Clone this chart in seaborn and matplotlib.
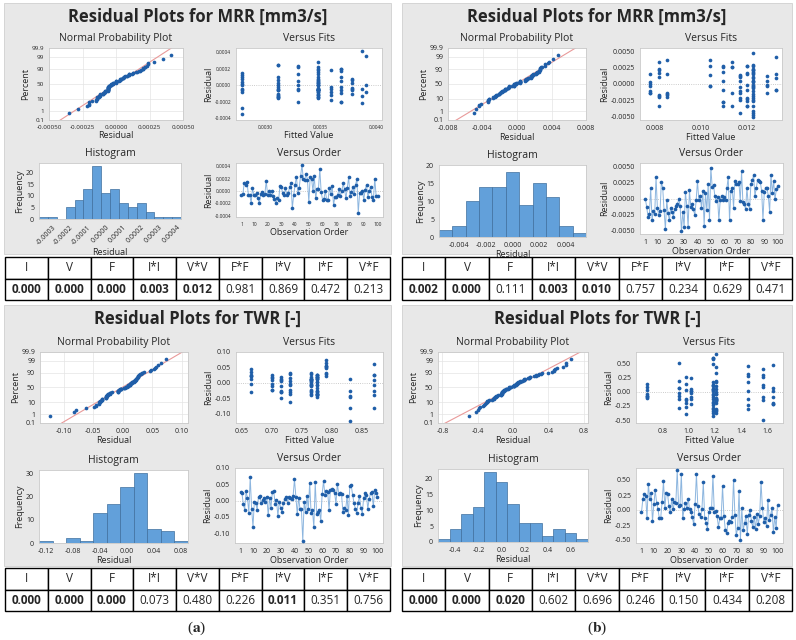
import numpy as np
import pandas as pd
import matplotlib
matplotlib.use("Agg")
import matplotlib.pyplot as plt
import matplotlib.ticker as mticker
from matplotlib.patches import Rectangle
import seaborn as sns
from statistics import NormalDist

# ---------------- data ----------------
obs = np.arange(1, 101)

# (a) top: MRR residuals in observation order
resid_mrr_a = np.array([
    -0.00006, -0.00005, 0.00013, 0.00010, 0.00015, -0.00006, -0.00006, -0.00020, 0.00004, -0.00006,
    -0.00006, -0.00004, -0.00012, -0.00020, -0.00005, -0.00002, -0.00006, -0.00005, 0.00016, -0.00006,
    0.00000, -0.00006, 0.00000, -0.00008, -0.00013, -0.00020, -0.00012, -0.00015, 0.00008, 0.00007,
    -0.00004, -0.00006, 0.00004, -0.00006, -0.00004, 0.00006, 0.00013, -0.00028, -0.00006, 0.00010,
    0.00023, -0.00003, 0.00005, 0.00024, 0.00041, 0.00020, 0.00017, 0.00028, 0.00018, -0.00018,
    0.00022, 0.00020, 0.00000, 0.00024, -0.00012, 0.00003, 0.00003, 0.00035, -0.00002, -0.00014,
    -0.00013, 0.00000, -0.00014, -0.00015, 0.00005, -0.00005, 0.00008, -0.00022, -0.00010, -0.00009,
    -0.00006, 0.00003, -0.00008, 0.00000, 0.00012, 0.00003, -0.00012, 0.00005, 0.00022, -0.00008,
    -0.00002, 0.00006, -0.00005, 0.00010, 0.00019, -0.00035, -0.00004, -0.00003, 0.00000, -0.00014,
    0.00002, 0.00010, -0.00010, 0.00000, 0.00006, -0.00010, -0.00014, 0.00020, -0.00008, -0.00008])
fit_levels_mrr_a = np.array([0.00279, 0.00312, 0.00330, 0.00348, 0.00359, 0.00368, 0.00378, 0.00387, 0.00391])
fit_idx_mrr_a = np.array([
    0, 0, 2, 0, 0, 3, 3, 2, 0, 5, 3, 1, 4, 5, 3, 1, 1, 2, 3, 3,
    0, 2, 2, 0, 1, 5, 3, 3, 0, 3, 3, 3, 3, 6, 3, 1, 3, 0, 1, 1,
    2, 3, 2, 1, 7, 5, 5, 3, 4, 4, 3, 3, 3, 1, 1, 6, 3, 8, 4, 1,
    7, 3, 3, 1, 5, 4, 6, 7, 6, 5, 3, 1, 8, 8, 0, 3, 3, 3, 2, 4,
    5, 3, 7, 3, 3, 0, 6, 6, 3, 3, 0, 5, 3, 1, 6, 1, 1, 5, 3, 3])

# (b) top: MRR residuals
resid_mrr_b = np.array([
    0.0000, -0.00135, -0.0028, -0.0024, 0.0016, -0.0033, -0.0020, -0.0024, 0.0033, -0.0014,
    -0.0026, -0.0020, 0.0026, 0.0016, -0.0018, -0.0048, -0.0003, -0.0023, -0.0034, -0.0014,
    -0.0021, -0.0028, -0.0017, -0.0011, -0.0009, -0.0001, -0.0011, -0.0050, -0.0021, -0.0044,
    0.0010, -0.0011, -0.0044, 0.0013, -0.0013, -0.0009, -0.0017, -0.0026, -0.0003, 0.0027,
    -0.0002, 0.0004, -0.0014, 0.0011, -0.0042, 0.0009, -0.0018, 0.0023, -0.0034, 0.0048,
    0.0018, 0.0021, 0.0004, -0.0004, 0.0003, -0.0034, -0.0003, 0.0004, -0.0003, 0.0003,
    -0.0003, 0.0016, 0.0033, -0.0034, 0.0012, 0.0017, -0.0014, 0.0027, 0.0022, 0.0022,
    0.0026, -0.0004, 0.0042, -0.0006, -0.0009, -0.0016, 0.0016, -0.0009, -0.0016, 0.0023,
    0.0028, 0.0036, 0.0004, 0.0016, 0.0029, 0.0027, 0.0026, 0.0012, -0.0033, 0.0010,
    0.0017, 0.0017, 0.0004, -0.0021, 0.0037, 0.0009, 0.0027, -0.0001, 0.0014, 0.0019])
fit_levels_mrr_b = np.array([0.00778, 0.00819, 0.00854, 0.01040, 0.01097, 0.01138,
                             0.01172, 0.01200, 0.01226, 0.01288, 0.01327])
fit_idx_mrr_b = np.array([
    0, 0, 4, 6, 0, 1, 1, 8, 1, 0, 8, 2, 5, 2, 1, 8, 0, 7, 5, 2,
    8, 4, 2, 0, 10, 9, 6, 8, 7, 6, 1, 8, 8, 3, 9, 4, 1, 7, 3, 3,
    8, 4, 5, 6, 8, 10, 8, 1, 4, 8, 4, 1, 6, 8, 8, 7, 9, 8, 3, 0,
    8, 10, 5, 8, 6, 1, 6, 7, 8, 8, 4, 6, 10, 8, 10, 8, 8, 7, 2, 8,
    4, 3, 9, 7, 8, 7, 5, 9, 7, 8, 8, 7, 8, 6, 2, 8, 8, 7, 6, 8])

# (a) bottom: TWR residuals
resid_twr_a = np.array([
    0.025, 0.022, -0.009, -0.028, 0.028, 0.008, -0.037, 0.073, -0.025, -0.080,
    -0.003, -0.008, -0.028, 0.012, 0.015, -0.008, 0.002, 0.008, -0.004, 0.012,
    -0.045, 0.008, -0.022, 0.026, 0.029, -0.009, 0.002, -0.048, -0.003, -0.022,
    -0.036, -0.008, 0.005, 0.012, -0.006, 0.012, 0.007, 0.004, 0.014, 0.065,
    0.012, -0.041, 0.009, -0.027, -0.026, -0.123, -0.005, -0.035, 0.015, -0.027,
    0.055, -0.038, -0.029, -0.082, 0.056, -0.040, -0.035, -0.029, -0.062, 0.020,
    0.060, 0.018, 0.028, 0.026, -0.028, 0.033, 0.035, 0.031, 0.024, -0.009,
    0.052, 0.020, 0.024, 0.020, -0.035, -0.022, -0.029, 0.014, -0.045, 0.045,
    0.048, 0.018, -0.006, -0.025, -0.038, -0.007, 0.015, -0.022, -0.040, 0.008,
    0.022, 0.018, -0.025, 0.005, 0.022, 0.026, -0.018, 0.032, 0.024, 0.012])
fit_levels_twr_a = np.array([0.665, 0.700, 0.715, 0.730, 0.765, 0.775, 0.790, 0.830, 0.870])
fit_idx_twr_a = np.array([
    0, 0, 1, 2, 3, 4, 5, 6, 7, 8, 4, 5, 5, 2, 3, 4, 5, 1, 0, 5,
    7, 4, 3, 5, 6, 4, 5, 2, 1, 4, 5, 8, 3, 4, 5, 0, 2, 4, 5, 6,
    4, 7, 2, 5, 4, 7, 3, 5, 1, 8, 6, 5, 2, 7, 6, 5, 4, 0, 3, 5,
    8, 1, 4, 5, 3, 6, 0, 4, 5, 2, 6, 4, 8, 5, 3, 1, 4, 7, 5, 0,
    6, 2, 4, 5, 8, 3, 5, 1, 4, 8, 0, 5, 2, 4, 6, 8, 5, 3, 1, 4])

# (b) bottom: TWR residuals
resid_twr_b = np.array([
    -0.04, 0.19, 0.26, 0.24, -0.13, 0.44, 0.18, 0.29, -0.19, 0.10,
    0.33, 0.12, 0.01, -0.14, -0.13, 0.14, 0.48, 0.04, 0.28, 0.26,
    0.06, -0.04, 0.18, 0.01, 0.13, 0.12, 0.66, 0.07, 0.08, 0.60,
    -0.14, 0.01, 0.12, 0.04, 0.19, 0.01, -0.03, -0.12, -0.24, 0.10,
    0.60, 0.06, -0.07, -0.11, 0.02, 0.46, -0.14, -0.21, -0.31, -0.04,
    0.04, 0.03, 0.57, -0.04, -0.02, -0.10, -0.28, -0.14, -0.13, 0.40,
    -0.10, -0.33, -0.38, -0.21, -0.19, -0.20, -0.12, 0.50, -0.08, -0.42,
    -0.30, 0.32, -0.50, 0.03, -0.34, -0.22, -0.10, -0.40, -0.09, 0.00,
    -0.18, -0.29, -0.11, -0.32, -0.06, -0.23, -0.10, 0.47, 0.04, -0.20,
    -0.13, -0.27, 0.17, -0.17, -0.08, 0.03, -0.37, -0.12, -0.30, 0.08])
fit_levels_twr_b = np.array([0.68, 0.93, 0.98, 1.02, 1.19, 1.21, 1.45, 1.57, 1.64])
fit_idx_twr_b = np.array([
    0, 1, 2, 3, 4, 5, 6, 7, 8, 4, 5, 4, 3, 2, 1, 0, 4, 5, 6, 7,
    8, 4, 5, 3, 2, 4, 5, 1, 0, 4, 5, 6, 7, 4, 5, 8, 3, 2, 4, 5,
    4, 1, 0, 5, 4, 6, 7, 8, 4, 5, 3, 2, 4, 5, 1, 0, 4, 5, 6, 7,
    8, 4, 5, 3, 2, 4, 5, 1, 0, 4, 5, 6, 7, 4, 5, 8, 3, 2, 4, 5,
    4, 1, 0, 5, 4, 6, 7, 8, 4, 5, 3, 2, 4, 5, 1, 0, 4, 5, 6, 7])

# ANOVA p-values shown in the tables
terms = ["I", "V", "F", "I*I", "V*V", "F*F", "I*V", "I*F", "V*F"]
p_mrr_a = [0.000, 0.000, 0.000, 0.003, 0.012, 0.981, 0.869, 0.472, 0.213]
p_mrr_b = [0.002, 0.000, 0.111, 0.003, 0.010, 0.757, 0.234, 0.629, 0.471]
p_twr_a = [0.000, 0.000, 0.000, 0.073, 0.480, 0.226, 0.011, 0.351, 0.756]
p_twr_b = [0.000, 0.000, 0.020, 0.602, 0.696, 0.246, 0.150, 0.434, 0.208]

# ---------------- style ----------------
sns.set_style("white")
plt.rcParams['font.family'] = ['Open Sans', 'DejaVu Sans']
plt.rcParams['axes.unicode_minus'] = False
plt.rcParams['mathtext.fontset'] = 'stix'

W, H = 796, 640
BLUE = '#1f5ea8'
LINE = '#8db6df'
BAR = '#62a0da'
BAR_EDGE = '#3f6f9e'
PANEL = '#e8e8e8'
SUB_FS = 7.5
LAB_FS = 6.5
nd = NormalDist()

fig = plt.figure(figsize=(W / 100, H / 100), dpi=100)
fig.patch.set_facecolor('white')


def px_axes(box):
    x0, y0, x1, y1 = box
    return fig.add_axes([x0 / W, 1 - y1 / H, (x1 - x0) / W, (y1 - y0) / H])


def style_ax(ax, fs):
    ax.set_facecolor('white')
    for s in ax.spines.values():
        s.set_color('#c9c9c9')
        s.set_linewidth(0.6)
    ax.tick_params(labelsize=fs, length=2, width=0.5, color='#999999', pad=1.5)


def normal_plot(ax, r, xlim, xticks, fmt, fs):
    rs = np.sort(r)
    n = len(rs)
    pr = (np.arange(1, n + 1) - 0.3) / (n + 0.4)
    z = np.array([nd.inv_cdf(v) for v in pr])
    zl = np.linspace(-3.5, 3.5, 20)
    ax.plot(r.mean() + r.std(ddof=1) * zl, zl, color='#e99a9a', lw=0.8, zorder=2)
    sns.scatterplot(x=rs, y=z, ax=ax, s=7, color=BLUE, linewidth=0, zorder=3)
    pcts = [0.1, 1, 10, 50, 90, 99, 99.9]
    ax.set_yticks([nd.inv_cdf(q / 100) for q in pcts])
    ax.set_yticklabels(['0.1', '1', '10', '50', '90', '99', '99.9'])
    ax.set_ylim(nd.inv_cdf(0.001), nd.inv_cdf(0.999))
    ax.set_xlim(*xlim)
    ax.set_xticks(xticks)
    ax.xaxis.set_major_formatter(mticker.FormatStrFormatter(fmt))
    ax.grid(True, color='#e4e4e4', lw=0.5)
    ax.set_axisbelow(True)
    style_ax(ax, fs)
    ax.set_xlabel('Residual', fontsize=LAB_FS, labelpad=1)
    ax.set_ylabel('Percent', fontsize=LAB_FS, labelpad=1)
    ax.set_title('Normal Probability Plot', fontsize=SUB_FS, pad=5)


def fits_plot(ax, r, fits, xlim, xticks, xfmt, ylim, yticks, yfmt, fs):
    ax.axhline(0, color='#bbbbbb', lw=0.6, ls=':')
    sns.scatterplot(x=fits, y=r, ax=ax, s=7, color=BLUE, linewidth=0, zorder=3)
    ax.set_xlim(*xlim)
    ax.set_xticks(xticks)
    ax.xaxis.set_major_formatter(mticker.FormatStrFormatter(xfmt))
    ax.set_ylim(*ylim)
    ax.set_yticks(yticks)
    ax.yaxis.set_major_formatter(mticker.FormatStrFormatter(yfmt))
    style_ax(ax, fs)
    ax.set_xlabel('Fitted Value', fontsize=LAB_FS, labelpad=1)
    ax.set_ylabel('Residual', fontsize=LAB_FS, labelpad=1)
    ax.set_title('Versus Fits', fontsize=SUB_FS, pad=5)


def hist_plot(ax, r, edges, xticks, xfmt, yticks, fs, rot=0):
    sns.histplot(x=r, bins=edges, ax=ax, color=BAR, edgecolor=BAR_EDGE,
                 linewidth=0.5, alpha=1)
    ax.set_xlim(edges[0], edges[-1])
    ax.set_xticks(xticks)
    ax.xaxis.set_major_formatter(mticker.FormatStrFormatter(xfmt))
    ax.set_yticks(yticks)
    style_ax(ax, fs)
    if rot:
        for t in ax.get_xticklabels():
            t.set_rotation(rot)
            t.set_ha('right')
            t.set_rotation_mode('anchor')
    ax.set_xlabel('Residual', fontsize=LAB_FS, labelpad=1)
    ax.set_ylabel('Frequency', fontsize=LAB_FS, labelpad=1)
    ax.set_title('Histogram', fontsize=SUB_FS, pad=5)


def order_plot(ax, r, ylim, yticks, yfmt, fs):
    ax.axhline(0, color='#bbbbbb', lw=0.6, ls=':')
    sns.lineplot(x=obs, y=r, ax=ax, color=LINE, lw=0.7)
    sns.scatterplot(x=obs, y=r, ax=ax, s=7, color=BLUE, linewidth=0, zorder=3)
    ax.set_xlim(-3, 104)
    ax.set_xticks([1, 10, 20, 30, 40, 50, 60, 70, 80, 90, 100])
    ax.set_ylim(*ylim)
    ax.set_yticks(yticks)
    ax.yaxis.set_major_formatter(mticker.FormatStrFormatter(yfmt))
    style_ax(ax, fs)
    ax.set_xlabel('Observation Order', fontsize=LAB_FS, labelpad=1)
    ax.set_ylabel('Residual', fontsize=LAB_FS, labelpad=1)
    ax.set_title('Versus Order', fontsize=SUB_FS, pad=5)


def p_table(box, pvals):
    ax = px_axes(box)
    ax.axis('off')
    cells = [terms, ['%.3f' % p for p in pvals]]
    tb = ax.table(cellText=cells, cellLoc='center', bbox=[0, 0, 1, 1])
    tb.auto_set_font_size(False)
    for (i, j), c in tb.get_celld().items():
        c.set_edgecolor('black')
        c.set_linewidth(1.0)
        c.set_facecolor('white')
        c.get_text().set_fontsize(8.5)
        if i == 1 and pvals[j] < 0.05:
            c.get_text().set_fontweight('bold')


def panel_box(box, title, ty):
    x0, y0, x1, y1 = box
    fig.patches.append(Rectangle((x0 / W, 1 - y1 / H), (x1 - x0) / W, (y1 - y0) / H,
                                 transform=fig.transFigure, facecolor=PANEL,
                                 edgecolor='#d0d0d0', lw=0.6, zorder=-10))
    fig.text((x0 + x1) / 2 / W, 1 - ty / H, title, ha='center', va='center',
             fontsize=12, fontweight='bold')


# ---------------- (a) top: MRR ----------------
panel_box((4, 3, 391, 254), 'Residual Plots for MRR [mm3/s]', 17)
normal_plot(px_axes((49, 48, 183, 120)), resid_mrr_a, (-0.0005, 0.0005),
            [-0.0005, -0.00025, 0, 0.00025, 0.0005], '%.5f', 4.5)
fits_plot(px_axes((236, 48, 382, 120)), resid_mrr_a, fit_levels_mrr_a[fit_idx_mrr_a],
          (0.00274, 0.00405), [0.0030, 0.0035, 0.0040], '%.4f',
          (-0.00042, 0.00045), [-0.0004, -0.0002, 0, 0.0002, 0.0004], '%.4f', 3.5)
hist_plot(px_axes((39, 163, 181, 219)), resid_mrr_a,
          np.array([-0.000375, -0.000325, -0.000275, -0.000225, -0.000175, -0.000125, -0.000075,
                    -0.000025, 0.000025, 0.000075, 0.000125, 0.000175, 0.000225, 0.000275,
                    0.000325, 0.000375, 0.000425]),
          [-0.0003, -0.0002, -0.0001, 0, 0.0001, 0.0002, 0.0003, 0.0004], '%.4f',
          [0, 5, 10, 15, 20], 5, rot=45)
order_plot(px_axes((236, 163, 383, 217)), resid_mrr_a, (-0.00042, 0.00045),
           [-0.0004, -0.0002, 0, 0.0002, 0.0004], '%.4f', 3.5)
p_table((5, 257, 390, 300), p_mrr_a)

# ---------------- (b) top: MRR ----------------
panel_box((402, 3, 792, 254), 'Residual Plots for MRR [mm3/s]', 17)
normal_plot(px_axes((448, 48, 586, 120)), resid_mrr_b, (-0.008, 0.008),
            [-0.008, -0.004, 0, 0.004, 0.008], '%.3f', 5)
fits_plot(px_axes((640, 48, 782, 120)), resid_mrr_b, fit_levels_mrr_b[fit_idx_mrr_b],
          (0.00734, 0.01355), [0.008, 0.010, 0.012], '%.3f',
          (-0.0055, 0.0055), [-0.005, -0.0025, 0, 0.0025, 0.005], '%.4f', 5)
hist_plot(px_axes((439, 165, 586, 237)), resid_mrr_b,
          np.array([-0.0055, -0.0045, -0.0035, -0.0025, -0.0015, -0.0005, 0.0005,
                    0.0015, 0.0025, 0.0035, 0.0045, 0.0055]),
          [-0.004, -0.002, 0, 0.002, 0.004], '%.3f', [0, 5, 10, 15, 20], 5)
order_plot(px_axes((640, 163, 783, 234)), resid_mrr_b, (-0.0055, 0.0055),
           [-0.005, -0.0025, 0, 0.0025, 0.005], '%.4f', 5)
p_table((402, 257, 792, 300), p_mrr_b)

# ---------------- (a) bottom: TWR ----------------
panel_box((4, 305, 391, 566), 'Residual Plots for TWR [-]', 319)
normal_plot(px_axes((40, 352, 188, 423)), resid_twr_a, (-0.14, 0.11),
            [-0.10, -0.05, 0, 0.05, 0.10], '%.2f', 5)
fits_plot(px_axes((236, 352, 383, 423)), resid_twr_a, fit_levels_twr_a[fit_idx_twr_a],
          (0.64, 0.885), [0.65, 0.70, 0.75, 0.80, 0.85], '%.2f',
          (-0.13, 0.10), [-0.10, -0.05, 0, 0.05, 0.10], '%.2f', 5)
hist_plot(px_axes((39, 470, 188, 543)), resid_twr_a,
          np.array([-0.13, -0.11, -0.09, -0.07, -0.05, -0.03, -0.01, 0.01, 0.03,
                    0.05, 0.07, 0.09]),
          [-0.12, -0.08, -0.04, 0, 0.04, 0.08], '%.2f', [0, 10, 20, 30], 5)
order_plot(px_axes((235, 468, 383, 543)), resid_twr_a, (-0.13, 0.10),
           [-0.10, -0.05, 0, 0.05, 0.10], '%.2f', 5)
p_table((5, 568, 390, 611), p_twr_a)

# ---------------- (b) bottom: TWR ----------------
panel_box((402, 305, 792, 566), 'Residual Plots for TWR [-]', 319)
normal_plot(px_axes((438, 352, 588, 423)), resid_twr_b, (-0.85, 0.85),
            [-0.8, -0.4, 0, 0.4, 0.8], '%.1f', 5)
fits_plot(px_axes((636, 352, 783, 423)), resid_twr_b, fit_levels_twr_b[fit_idx_twr_b],
          (0.6, 1.72), [0.8, 1.0, 1.2, 1.4, 1.6], '%.1f',
          (-0.55, 0.7), [-0.50, -0.25, 0, 0.25, 0.50], '%.2f', 5)
hist_plot(px_axes((438, 469, 588, 542)), resid_twr_b,
          np.array([-0.55, -0.45, -0.35, -0.25, -0.15, -0.05, 0.05, 0.15, 0.25,
                    0.35, 0.45, 0.55, 0.65, 0.75]),
          [-0.4, -0.2, 0, 0.2, 0.4, 0.6], '%.1f', [0, 5, 10, 15, 20], 5)
order_plot(px_axes((636, 468, 783, 543)), resid_twr_b, (-0.55, 0.7),
           [-0.50, -0.25, 0, 0.25, 0.50], '%.2f', 5)
p_table((402, 568, 792, 611), p_twr_b)

# panel letters
fig.text(197 / W, 1 - 628 / H, r'($\mathbf{a}$)', ha='center', va='center',
         fontsize=11, family='Liberation Serif')
fig.text(597 / W, 1 - 628 / H, r'($\mathbf{b}$)', ha='center', va='center',
         fontsize=11, family='Liberation Serif')

fig.savefig('out.png', dpi=100, facecolor='white')
